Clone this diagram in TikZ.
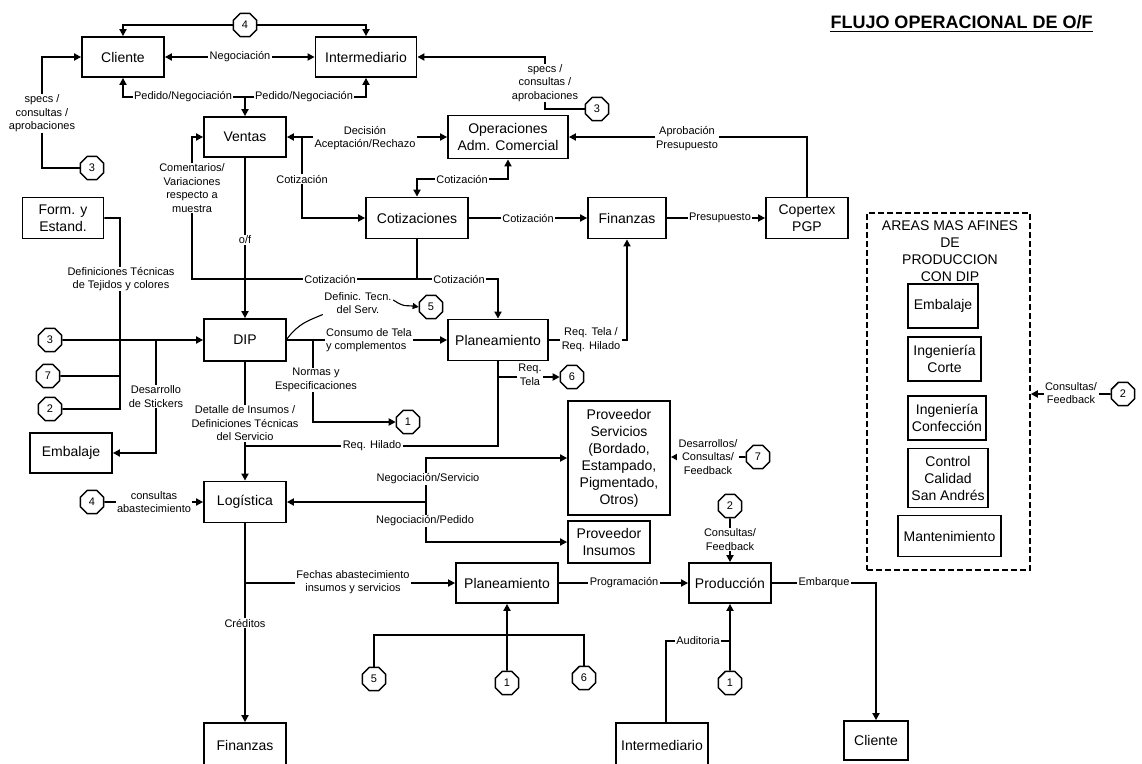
\documentclass[tikz,border=0pt]{standalone}
\usepackage{fontspec}
\setmainfont{Liberation Sans}
\usetikzlibrary{arrows.meta,shapes.geometric,positioning}

\tikzset{
  box/.style={draw, line width=1.8pt, align=center, inner sep=1pt,
    font=\fontsize{14}{17}\selectfont},
  lbl/.style={fill=white, align=center, inner xsep=1.5pt, inner ysep=0.5pt,
    font=\fontsize{11}{13.5}\selectfont},
  conn/.style={draw, regular polygon, regular polygon sides=8, minimum size=25pt,
    inner sep=0pt, line width=1.5pt, fill=white, font=\fontsize{11}{12}\selectfont},
  link/.style={line width=1.8pt},
  flow/.style={link, -{Triangle[length=7pt,width=7pt]}},
  both/.style={link, {Triangle[length=7pt,width=7pt]}-{Triangle[length=7pt,width=7pt]}},
  wavy/.style={line width=1.1pt},
}

\begin{document}
\begin{tikzpicture}[x=1pt,y=-1pt]
  \useasboundingbox (0,0) rectangle (1142,763);

  % title
  \node[anchor=base, inner sep=0pt, font=\bfseries\fontsize{18}{20}\selectfont] (titulo) at (961.5,28) {FLUJO OPERACIONAL DE O/F};
  \draw[line width=1.8pt] ([yshift=-3.5pt]titulo.base west) -- ([yshift=-3.5pt]titulo.base east);

  % boxes
  \node[box, minimum width=82pt, minimum height=40pt] (cliente) at (123,57) {Cliente};
  \node[box, minimum width=101pt, minimum height=40pt] (interm) at (366,57) {Intermediario};
  \node[box, minimum width=82pt, minimum height=40pt] (ventas) at (245,137) {Ventas};
  \node[box, minimum width=120pt, minimum height=43pt] (operac) at (508,137) {Operaciones\\Adm. Comercial};
  \node[box, minimum width=102pt, minimum height=41pt] (cotiz) at (417,218) {Cotizaciones};
  \node[box, minimum width=78pt, minimum height=41pt] (finan) at (627,218) {Finanzas};
  \node[box, minimum width=82pt, minimum height=41pt] (copert) at (807,218) {Copertex\\PGP};
  \node[box, minimum width=81pt, minimum height=41pt] (formest) at (63,218) {Form. y\\Estand.};
  \node[box, minimum width=82pt, minimum height=42pt] (dip) at (245,340) {DIP};
  \node[box, minimum width=100pt, minimum height=41pt] (planea) at (498,340) {Planeamiento};
  \node[box, minimum width=82pt, minimum height=40pt] (embal) at (71,453) {Embalaje};
  \node[box, minimum width=82pt, minimum height=41pt] (logist) at (245,502) {Logística};
  \node[box, minimum width=82pt, minimum height=44pt] (finanB) at (245,745) {Finanzas};
  \node[box, minimum width=102pt, minimum height=114pt] (provserv) at (619,458) {Proveedor\\Servicios\\(Bordado,\\Estampado,\\Pigmentado,\\Otros)};
  \node[box, minimum width=82pt, minimum height=42pt] (provins) at (609,542) {Proveedor\\Insumos};
  \node[box, minimum width=102pt, minimum height=40pt] (planeaB) at (507,583) {Planeamiento};
  \node[box, minimum width=82pt, minimum height=40pt] (produc) at (730,583) {Producción};
  \node[box, minimum width=92pt, minimum height=44pt] (intermB) at (662,745) {Intermediario};
  \node[box, minimum width=64pt, minimum height=39pt] (clienteB) at (876,740.5) {Cliente};

  % areas afines
  \node[draw, dash pattern=on 6pt off 3pt, line width=1.5pt, minimum width=163pt, minimum height=357pt, inner sep=0pt] (areas) at (948.5,391.5) {};
  \node[align=center, inner sep=0pt, font=\fontsize{14}{17}\selectfont] (areasT) at (950,251) {AREAS MAS AFINES\\DE\\PRODUCCION\\CON DIP};
  \node[box, minimum width=70pt, minimum height=44pt] (aEmb) at (943,306) {Embalaje};
  \node[box, minimum width=73pt, minimum height=44pt] (aCorte) at (944.5,359) {Ingeniería\\Corte};
  \node[box, minimum width=78pt, minimum height=44pt] (aConf) at (947,418) {Ingeniería\\Confección};
  \node[box, minimum width=80pt, minimum height=59pt] (aCal) at (948,478) {Control\\Calidad\\San Andrés};
  \node[box, minimum width=103pt, minimum height=41pt] (aMant) at (949.5,536) {Mantenimiento};

  % connectors
  \foreach \n/\x/\y/\t in {c4a/245/25/4, c3a/92/168/3, c3b/597/109/3, c5a/431/307/5,
      c3c/50/340/3, c7a/48/376/7, c2a/50/409/2, c6a/572/377/6, c1a/408/422/1,
      c7b/758/457/7, c4b/92/502/4, c2b/730/506/2, c2c/1123/394/2,
      c5b/374/679/5, c1b/507/683/1, c6b/584/678/6, c1c/730/683/1}
    \node[conn] (\n) at (\x,\y) {\t};

  % top: cliente / intermediario
  \draw[flow] (c4a) -| (cliente.north);
  \draw[flow] (c4a) -| (interm.north);
  \draw[both] (cliente) -- (interm);
  \coordinate (pedJ) at (245,97);
  \draw[flow] (pedJ) -| (cliente.south);
  \draw[flow] (pedJ) -| (interm.south);
  \draw[flow] (pedJ) -- (ventas.north);
  \coordinate (specL) at (42,57);
  \draw[flow] (c3a) -| (specL) -- (cliente.west);
  \coordinate (specR) at (545,57);
  \draw[flow] (c3b) -| (specR) -- (interm.east);

  % ventas, operaciones, cotizaciones
  \draw[both] (ventas) -- (operac);
  \coordinate (cotJ) at (302,137);
  \draw[flow] (cotJ) |- (cotiz.west);
  \coordinate (coR) at (508,179);
  \draw[both] (cotiz.north) |- (coR) -- (operac.south);
  \draw[flow] (cotiz) -- (finan);
  \draw[flow] (finan) -- (copert);
  \draw[flow] (copert.north) |- (operac.east);
  \coordinate (cvJ) at (417,279);
  \coordinate (cvL) at (192,279);
  \draw[flow] (cotiz.south) -- (cvJ) -- (cvL) |- (ventas.west);
  \draw[flow] (cvJ) -| (planea.north);
  \draw[flow] (ventas) -- (dip);

  % form. y estand. and inputs of DIP
  \coordinate (fmB) at (120,409);
  \draw[link] (formest.east) -| (fmB) -- (c2a);
  \draw[link] (c7a) -- (c7a -| fmB);
  \draw[flow] (c3c) -- (dip.west);
  \coordinate (stJ) at (156,340);
  \draw[flow] (stJ) |- (embal.east);

  % DIP outputs
  \draw[flow] (dip) -- (logist);
  \draw[flow] (dip) -- (planea);
  \coordinate (noJ) at (313,340);
  \draw[flow] (noJ) |- (c1a);
  \node[lbl, fill=none] (lDef) at (358,303) {Definic. Tecn.\\del Serv.};
  \draw[wavy] ([yshift=1pt]dip.east) .. controls +(12,-16) and +(-14,6) .. (lDef.south west);
  \draw[wavy, -{Triangle[length=6pt,width=6pt]}] ([yshift=3pt]lDef.east) .. controls +(12,8) and +(-12,-2) .. (c5a.west);

  % planeamiento
  \draw[flow] (planea.east) -| (finan.south);
  \coordinate (rhJ) at (245,446);
  \draw[link] (planea.south) |- (rhJ);
  \coordinate (rtJ) at (498,377);
  \draw[flow] (rtJ) -- (c6a);

  % logistica
  \coordinate (nbJ) at (426,502);
  \draw[flow] (nbJ) |- (provserv.west);
  \draw[flow] (nbJ) |- (provins.west);
  \draw[flow] (nbJ) -- (logist.east);
  \draw[flow] (c7b) -- (c7b -| provserv.east);
  \draw[flow] (c4b) -- (logist);
  \draw[flow] (logist) -- (finanB);
  \coordinate (feJ) at (245,583);
  \draw[flow] (feJ) -- (planeaB.west);

  % planeamiento / produccion
  \draw[flow] (planeaB) -- (produc);
  \coordinate (pbJ) at (507,635);
  \draw[link] (c5b) |- (pbJ) -| (c6b);
  \draw[flow] (c1b) -- (planeaB);
  \draw[flow] (c2b) -- (produc);
  \draw[flow] (c1c) -- (produc);
  \coordinate (auJ) at (730,641);
  \coordinate (auB) at (666,641);
  \draw[link] (auJ) -- (auB) -- (auB |- intermB.north);
  \draw[flow] (produc.east) -| (clienteB.north);
  \draw[flow] (c2c) -- (c2c -| areas.east);

  % labels
  \node[lbl] (lSpecL) at (42,113.5) {specs /\\consultas /\\aprobaciones};
  \node[lbl] (lSpecR) at (545,83) {specs /\\consultas /\\aprobaciones};
  \node[lbl] (lNeg) at (240,57) {Negociación};
  \node[lbl] (lPed1) at (183,97) {Pedido/Negociación};
  \node[lbl] (lPed2) at (304,97) {Pedido/Negociación};
  \node[lbl] (lDec) at (365,138) {Decisión\\Aceptación/Rechazo};
  \node[lbl] (lCot1) at (302,179) {Cotización};
  \node[lbl] (lCot2) at (462,179) {Cotización};
  \node[lbl] (lCot3) at (528,218) {Cotización};
  \node[lbl] (lPres) at (720,218) {Presupuesto};
  \node[lbl] (lApr) at (687,138.5) {Aprobación\\Presupuesto};
  \node[lbl] (lCom) at (192,188) {Comentarios/\\Variaciones\\respecto a\\muestra};
  \node[lbl] (lCot4) at (330,279) {Cotización};
  \node[lbl] (lCot5) at (459,279) {Cotización};
  \node[lbl] (lOf) at (245,240) {o/f};
  \node[lbl] (lDefTej) at (121,279) {Definiciones Técnicas\\de Tejidos y colores};
  \node[lbl] (lStick) at (156,396.5) {Desarrollo\\de Stickers};
  \node[lbl, align=left] (lCons) at (369,340) {Consumo de Tela\\y complementos};
  \node[lbl] (lNormas) at (316,380) {Normas y\\Especificaciones};
  \node[lbl] (lDet) at (245,423.5) {Detalle de Insumos /\\Definiciones Técnicas\\del Servicio};
  \node[lbl] (lReqTH) at (591,339.5) {Req. Tela /\\Req. Hilado};
  \node[lbl] (lReqT) at (530,375) {Req.\\Tela};
  \node[lbl] (lReqH) at (372,446) {Req. Hilado};
  \node[lbl] (lNegS) at (428,479) {Negociación/Servicio};
  \node[lbl] (lNegP) at (425,521) {Negociación/Pedido};
  \node[lbl] (lDes) at (708,457) {Desarrollos/\\Consultas/\\Feedback};
  \node[lbl] (lAbas) at (154,502) {consultas\\abastecimiento};
  \node[lbl] (lCred) at (245,623) {Créditos};
  \node[lbl] (lFech) at (353,582) {Fechas abastecimiento\\insumos y servicios};
  \node[lbl] (lProg) at (624,583) {Programación};
  \node[lbl] (lFeed) at (730,539.5) {Consultas/\\Feedback};
  \node[lbl] (lAud) at (698,641) {Auditoria};
  \node[lbl] (lEmb) at (824,583) {Embarque};
  \node[lbl] (lFeed2) at (1071,393) {Consultas/\\Feedback};

\end{tikzpicture}
\end{document}
